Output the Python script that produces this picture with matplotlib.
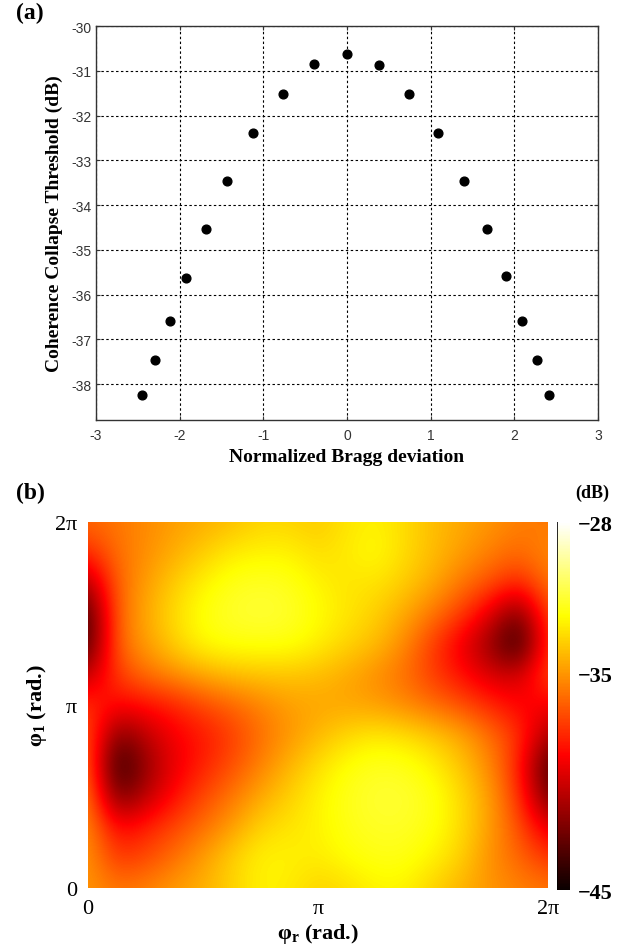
import numpy as np
import matplotlib
matplotlib.use("Agg")
import matplotlib.pyplot as plt

plt.rcParams['axes.unicode_minus'] = False
plt.rcParams['mathtext.fontset'] = 'custom'
plt.rcParams['mathtext.rm'] = 'Liberation Serif'
plt.rcParams['mathtext.it'] = 'Liberation Serif:italic'
plt.rcParams['mathtext.bf'] = 'Liberation Serif:bold'

# ---------------- data: panel (a) ----------------
bragg_dev = [-2.45, -2.30, -2.12, -1.93, -1.69, -1.43, -1.12, -0.77, -0.40, 0.0,
             0.38, 0.74, 1.09, 1.40, 1.67, 1.90, 2.09, 2.27, 2.42]
threshold = [-38.24, -37.46, -36.59, -35.62, -34.54, -33.46, -32.40, -31.51, -30.84, -30.63,
             -30.86, -31.51, -32.40, -33.46, -34.54, -35.59, -36.58, -37.45, -38.24]
a_xticks = [-3, -2, -1, 0, 1, 2, 3]
a_yticks = [-30, -31, -32, -33, -34, -35, -36, -37, -38]

# ---------------- data: panel (b) ----------------
# rows: phi_1 from 0 (row_00) to 2pi (row_12); 17 columns: phi_r from 0 to 2pi
row_00 = [-35.0, -35.8, -35.5, -34.8, -34.3, -33.5, -32.6, -32.8, -33.5, -33.2, -32.6, -32.6, -33.5, -34.3, -35.0, -35.5, -35.8]
row_01 = [-35.0, -37.5, -37.0, -36.0, -34.8, -33.5, -32.6, -32.6, -32.8, -32.3, -32.0, -32.0, -32.6, -33.5, -35.2, -36.2, -37.5]
row_02 = [-35.2, -38.8, -38.0, -37.0, -36.0, -34.8, -33.4, -33.0, -32.6, -32.0, -31.7, -31.7, -32.1, -33.2, -34.8, -36.8, -39.5]
row_03 = [-35.5, -42.5, -40.5, -38.5, -37.0, -35.8, -34.5, -33.5, -32.6, -31.9, -31.5, -31.5, -32.0, -33.2, -34.8, -37.5, -42.5]
row_04 = [-36.0, -44.5, -41.5, -39.3, -38.0, -36.8, -35.5, -34.2, -33.1, -32.2, -31.8, -31.9, -32.6, -33.8, -35.3, -38.0, -43.5]
row_05 = [-36.5, -42.3, -40.5, -39.0, -38.3, -37.3, -36.0, -35.0, -34.1, -33.3, -32.8, -33.1, -33.7, -34.5, -36.0, -37.5, -41.0]
row_06 = [-37.5, -38.8, -38.5, -38.0, -37.0, -36.3, -35.5, -34.8, -34.6, -34.6, -34.8, -35.3, -36.0, -36.8, -37.8, -38.8, -39.0]
row_07 = [-40.5, -37.3, -36.0, -35.2, -34.5, -34.0, -33.8, -33.8, -34.0, -34.5, -35.2, -36.0, -37.3, -38.5, -39.8, -40.0, -36.8]
row_08 = [-43.5, -36.3, -34.8, -33.5, -32.4, -32.1, -32.1, -32.1, -32.7, -33.4, -34.0, -35.3, -37.3, -39.3, -41.5, -44.5, -37.3]
row_09 = [-43.5, -36.3, -34.5, -33.2, -32.1, -31.6, -31.4, -31.6, -32.3, -32.9, -33.5, -34.5, -35.8, -37.3, -39.5, -42.5, -36.8]
row_10 = [-41.0, -36.3, -34.8, -33.6, -32.6, -31.9, -31.7, -31.9, -32.6, -33.0, -33.0, -33.6, -34.5, -35.8, -36.8, -38.0, -35.8]
row_11 = [-37.8, -36.0, -35.2, -34.4, -33.6, -32.8, -32.6, -32.6, -33.2, -32.8, -32.3, -33.2, -34.0, -34.8, -35.6, -36.2, -35.3]
row_12 = [-36.2, -35.8, -35.3, -34.8, -34.4, -34.0, -33.4, -33.4, -33.7, -33.0, -32.6, -33.2, -34.0, -34.5, -35.0, -35.6, -35.8]
b_ticklabels = ['0', 'π', '2π']
cbar_ticks = [-45, -35, -28]
cbar_labels = ['−45', '−35', '−28']
vmin, vmax = -45, -28

grid = np.array([row_00, row_01, row_02, row_03, row_04, row_05, row_06,
                 row_07, row_08, row_09, row_10, row_11, row_12])

serif = 'Liberation Serif'
sans = 'Liberation Sans'

fig = plt.figure(figsize=(6.25, 9.53), dpi=100)

# ---------------- panel (a) ----------------
ax1 = fig.add_axes([96/625, 1-421/953, 502/625, 394/953])
ax1.plot(bragg_dev, threshold, 'o', color='black', ms=6.3, zorder=3)
ax1.set_xlim(-3, 3)
ax1.set_ylim(-38.8, -30)
ax1.set_xticks(a_xticks)
ax1.set_yticks(a_yticks)
ax1.set_xticklabels([str(v) for v in a_xticks], fontfamily=sans, fontsize=10, color='#333333')
ax1.set_yticklabels([str(v) for v in a_yticks], fontfamily=sans, fontsize=10, color='#333333')
ax1.grid(True, color='black', linestyle=(0, (2.2, 2.2)), linewidth=0.8)
ax1.tick_params(direction='in', length=3, width=0.8, pad=6, top=True, right=True, colors='#333333')
ax1.tick_params(axis='y', pad=3)
for s in ax1.spines.values():
    s.set_linewidth(1.0)
    s.set_color('#333333')
ax1.set_xlabel('Normalized Bragg deviation', fontfamily=serif, fontweight='bold', fontsize=14, labelpad=4)
ax1.set_ylabel('Coherence Collapse Threshold (dB)', fontfamily=serif, fontweight='bold', fontsize=14, labelpad=6)
fig.text(16/625, 1-13/953, '(a)', fontfamily=serif, fontweight='bold', fontsize=17, ha='left', va='center')

# ---------------- panel (b) ----------------
ax2 = fig.add_axes([88/625, 1-889/953, 460/625, 366/953])
two_pi = 2*np.pi
hx = two_pi/(2*(grid.shape[1]-1))
hy = two_pi/(2*(grid.shape[0]-1))
im = ax2.imshow(grid, cmap='hot', vmin=vmin, vmax=vmax, origin='lower', aspect='auto',
                interpolation='bicubic', extent=[-hx, two_pi+hx, -hy, two_pi+hy])
ax2.set_xlim(0, two_pi)
ax2.set_ylim(0, two_pi)
ax2.set_xticks([0, np.pi, two_pi])
ax2.set_yticks([0, np.pi, two_pi])
ax2.set_xticklabels(b_ticklabels, fontfamily=serif, fontsize=16)
ax2.set_yticklabels(b_ticklabels, fontfamily=serif, fontsize=16)
ax2.tick_params(length=0, pad=8)
for s in ax2.spines.values():
    s.set_visible(False)
ax2.set_xlabel('φ$_\\mathbf{r}$ (rad.)', fontfamily=serif, fontweight='bold', fontsize=16, labelpad=2)
ax2.set_ylabel('φ$_\\mathbf{1}$ (rad.)', fontfamily=serif, fontweight='bold', fontsize=16, labelpad=4)
fig.text(16/625, 1-493/953, '(b)', fontfamily=serif, fontweight='bold', fontsize=17, ha='left', va='center')

cax = fig.add_axes([557/625, 1-891/953, 13/625, 368/953])
cb = fig.colorbar(im, cax=cax)
cb.outline.set_visible(False)
cb.set_ticks(cbar_ticks)
cb.set_ticklabels(cbar_labels)
cax.tick_params(length=0, pad=6)
for lab in cax.get_yticklabels():
    lab.set_fontfamily(serif)
    lab.set_fontweight('bold')
    lab.set_fontsize(16)
cax.axvline(0, color='black', linewidth=1.2)
cax.set_xlim(0, 1)
fig.text(592/625, 1-493/953, '(dB)', fontfamily=serif, fontweight='bold', fontsize=13, ha='center', va='center')

fig.savefig('out.png', dpi=100)
